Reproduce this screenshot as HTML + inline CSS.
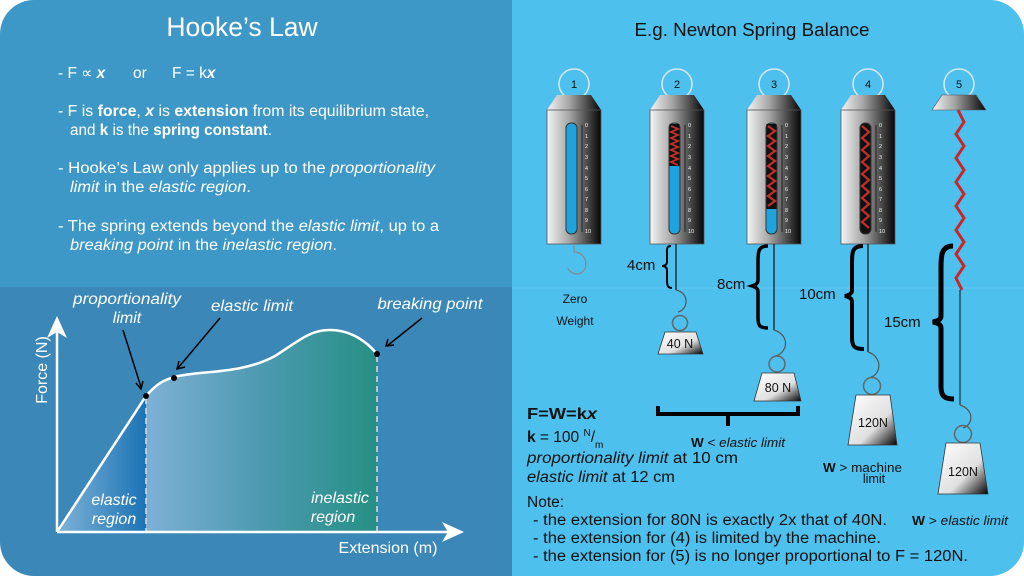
<!DOCTYPE html>
<html><head><meta charset="utf-8"><style>
html,body{margin:0;padding:0;background:#fff;}
svg{display:block;font-family:"Liberation Sans",sans-serif;}
</style></head><body>
<svg width="1024" height="576" viewBox="0 0 1024 576" xmlns="http://www.w3.org/2000/svg">
<defs>
<linearGradient id="metal" x1="0" x2="1" y1="0" y2="0"><stop offset="0" stop-color="#f4f4f4"/><stop offset="0.4" stop-color="#a8a8a8"/><stop offset="1" stop-color="#050505"/></linearGradient>
<linearGradient id="wgt" x1="0" x2="1" y1="0" y2="1"><stop offset="0" stop-color="#fff"/><stop offset="0.6" stop-color="#e0e0e0"/><stop offset="1" stop-color="#000"/></linearGradient>
<linearGradient id="el" x1="0" x2="1"><stop offset="0" stop-color="#7fb3d8"/><stop offset="1" stop-color="#1b73b5"/></linearGradient>
<linearGradient id="inel" x1="0" x2="1"><stop offset="0" stop-color="#7eb1d6"/><stop offset="0.5" stop-color="#4c9ab0"/><stop offset="1" stop-color="#269085"/></linearGradient>
<clipPath id="page"><rect x="0" y="0" width="1024" height="576" rx="34"/></clipPath>
</defs>
<g clip-path="url(#page)">
<rect x="0" y="0" width="512" height="287" fill="#3e98c7"/>
<rect x="0" y="287" width="512" height="289" fill="#3b88b8"/>
<rect x="512" y="0" width="512" height="576" fill="#4dc0ee"/>
<line x1="512" y1="288" x2="1024" y2="288" stroke="#5fc8f0" stroke-width="1"/>
</g>

<!-- Left text -->
<g fill="#fff">
<text x="242" y="36" font-size="26.5" text-anchor="middle">Hooke’s Law</text>
<g font-size="15.5">
<text x="58" y="78">- F ∝ <tspan font-weight="bold" font-style="italic">x</tspan><tspan x="133">or</tspan><tspan x="172">F = k</tspan><tspan font-weight="bold" font-style="italic">x</tspan></text>
<text x="58" y="116" textLength="371" lengthAdjust="spacingAndGlyphs">- F is <tspan font-weight="bold">force</tspan>, <tspan font-weight="bold" font-style="italic">x</tspan> is <tspan font-weight="bold">extension</tspan> from its equilibrium state,</text>
<text x="70" y="135" textLength="202" lengthAdjust="spacingAndGlyphs">and <tspan font-weight="bold">k</tspan> is the <tspan font-weight="bold">spring constant</tspan>.</text>
<text x="58" y="173" textLength="377" lengthAdjust="spacingAndGlyphs">- Hooke’s Law only applies up to the <tspan font-style="italic">proportionality</tspan></text>
<text x="70" y="192" textLength="181" lengthAdjust="spacingAndGlyphs"><tspan font-style="italic">limit</tspan> in the <tspan font-style="italic">elastic region</tspan>.</text>
<text x="58" y="231" textLength="381" lengthAdjust="spacingAndGlyphs">- The spring extends beyond the <tspan font-style="italic">elastic limit</tspan>, up to a</text>
<text x="70" y="250" textLength="267" lengthAdjust="spacingAndGlyphs"><tspan font-style="italic">breaking point</tspan> in the <tspan font-style="italic">inelastic region</tspan>.</text>
</g>
</g>

<!-- Graph -->
<polygon points="57,532 146,396 146,532" fill="url(#el)"/>
<path d="M146,396 C158,382 165,380 174,377 C200,370 240,375 275,356 C300,340 310,330 330,330 C352,330 368,343 377,354 L377,532 L146,532 Z" fill="url(#inel)"/>
<path d="M57,532 L146,396 C158,382 165,380 174,377 C200,370 240,375 275,356 C300,340 310,330 330,330 C352,330 368,343 377,354" fill="none" stroke="#fff" stroke-width="2.5"/>
<line x1="146" y1="398" x2="146" y2="532" stroke="#ddd" stroke-width="1.5" stroke-dasharray="6,4"/>
<line x1="377" y1="356" x2="377" y2="532" stroke="#ddd" stroke-width="1.5" stroke-dasharray="6,4"/>
<line x1="57" y1="532" x2="57" y2="330" stroke="#fff" stroke-width="2.5"/>
<polygon points="57,316 47,338 57,332 67,338" fill="#fff"/>
<line x1="57" y1="532" x2="455" y2="532" stroke="#fff" stroke-width="2.5"/>
<polygon points="464,532 442,522 448,532 442,542" fill="#fff"/>
<circle cx="146" cy="396" r="3" fill="#000"/><circle cx="174" cy="378" r="3" fill="#000"/><circle cx="377" cy="354" r="3" fill="#000"/>
<g stroke="#000" stroke-width="1.5" fill="none">
<line x1="123" y1="330" x2="141" y2="387"/><polyline points="136,383 141,389 143,381"/>
<line x1="220" y1="318" x2="178" y2="368"/><polyline points="179,361 177,369 185,367"/>
<line x1="422" y1="318" x2="387" y2="346"/><polyline points="388,339 386,346 394,345"/>
</g>
<g fill="#fff" font-size="16" font-style="italic">
<text x="127" y="304" text-anchor="middle" textLength="108" lengthAdjust="spacingAndGlyphs">proportionality</text>
<text x="127" y="323" text-anchor="middle">limit</text>
<text x="252" y="311" text-anchor="middle" textLength="82" lengthAdjust="spacingAndGlyphs">elastic limit</text>
<text x="430" y="309" text-anchor="middle" textLength="105" lengthAdjust="spacingAndGlyphs">breaking point</text>
<text x="114" y="505" text-anchor="middle">elastic</text>
<text x="114" y="524" text-anchor="middle">region</text>
<text x="340" y="503" text-anchor="middle">inelastic</text>
<text x="333" y="522" text-anchor="middle">region</text>
</g>
<g fill="#fff" font-size="16">
<text x="388" y="553" text-anchor="middle" textLength="99" lengthAdjust="spacingAndGlyphs">Extension (m)</text>
<text transform="translate(47,370) rotate(-90)" text-anchor="middle">Force (N)</text>
</g>

<!-- Right -->
<text x="752" y="36" font-size="18.5" text-anchor="middle" fill="#111" textLength="235" lengthAdjust="spacingAndGlyphs">E.g. Newton Spring Balance</text>

<g transform="translate(574,0)">
<circle cx="0" cy="84" r="15" fill="none" stroke="#d8e8f0" stroke-width="1.5"/>
<text x="0" y="88" font-size="11" text-anchor="middle" fill="#111">1</text>
<polygon points="-17,95 17,95 27,110 -27,110" fill="url(#metal)"/>
<rect x="-27" y="110" width="54" height="134" fill="url(#metal)" stroke="#555" stroke-width="0.8"/>
<rect x="-8" y="123" width="11" height="111" rx="5" fill="#1fa3df" stroke="#333"/>
<line x1="8" y1="125" x2="8" y2="232" stroke="#222"/>
<g font-size="5.5" fill="#eee"><text x="11" y="127">0</text><text x="11" y="138">1</text><text x="11" y="148">2</text><text x="11" y="159">3</text><text x="11" y="170">4</text><text x="11" y="180">5</text><text x="11" y="191">6</text><text x="11" y="201">7</text><text x="11" y="212">8</text><text x="11" y="222">9</text><text x="11" y="233">10</text></g>
</g>
<path d="M574,244 L574,252 C588,252 590,272 578,274 C572,274 568,270 568,268" fill="none" stroke="#888" stroke-width="1.2"/>
<text x="575" y="303" font-size="12" text-anchor="middle" fill="#111">Zero</text>
<text x="575" y="325" font-size="12" text-anchor="middle" fill="#111">Weight</text>

<g transform="translate(677,0)">
<circle cx="0" cy="84" r="15" fill="none" stroke="#d8e8f0" stroke-width="1.5"/>
<text x="0" y="88" font-size="11" text-anchor="middle" fill="#111">2</text>
<polygon points="-17,95 17,95 27,110 -27,110" fill="url(#metal)"/>
<rect x="-27" y="110" width="54" height="134" fill="url(#metal)" stroke="#555" stroke-width="0.8"/>
<rect x="-8" y="123" width="11" height="111" rx="5" fill="#1fa3df" stroke="#333"/>
<rect x="-7.5" y="124" width="10" height="42" fill="#111"/>
<polyline points="-6,126 1,129 -6,132 1,135 -6,138 1,141 -6,144 1,147 -6,150 1,153 -6,156 1,159 -6,162 1,165" fill="none" stroke="#c0302a" stroke-width="1.8"/>
<line x1="8" y1="125" x2="8" y2="232" stroke="#222"/>
<g font-size="5.5" fill="#eee"><text x="11" y="127">0</text><text x="11" y="138">1</text><text x="11" y="148">2</text><text x="11" y="159">3</text><text x="11" y="170">4</text><text x="11" y="180">5</text><text x="11" y="191">6</text><text x="11" y="201">7</text><text x="11" y="212">8</text><text x="11" y="222">9</text><text x="11" y="233">10</text></g>
</g>

<g transform="translate(774,0)">
<circle cx="0" cy="84" r="15" fill="none" stroke="#d8e8f0" stroke-width="1.5"/>
<text x="0" y="88" font-size="11" text-anchor="middle" fill="#111">3</text>
<polygon points="-17,95 17,95 27,110 -27,110" fill="url(#metal)"/>
<rect x="-27" y="110" width="54" height="134" fill="url(#metal)" stroke="#555" stroke-width="0.8"/>
<rect x="-8" y="123" width="11" height="111" rx="5" fill="#1fa3df" stroke="#333"/>
<rect x="-7.5" y="124" width="10" height="85" fill="#111"/>
<polyline points="-6,126 1,131 -6,136 1,141 -6,146 1,151 -6,156 1,161 -6,166 1,171 -6,176 1,181 -6,186 1,191 -6,196 1,201 -6,206" fill="none" stroke="#c0302a" stroke-width="2.2"/>
<line x1="8" y1="125" x2="8" y2="232" stroke="#222"/>
<g font-size="5.5" fill="#eee"><text x="11" y="127">0</text><text x="11" y="138">1</text><text x="11" y="148">2</text><text x="11" y="159">3</text><text x="11" y="170">4</text><text x="11" y="180">5</text><text x="11" y="191">6</text><text x="11" y="201">7</text><text x="11" y="212">8</text><text x="11" y="222">9</text><text x="11" y="233">10</text></g>
</g>

<g transform="translate(868,0)">
<circle cx="0" cy="84" r="15" fill="none" stroke="#d8e8f0" stroke-width="1.5"/>
<text x="0" y="88" font-size="11" text-anchor="middle" fill="#111">4</text>
<polygon points="-17,95 17,95 27,110 -27,110" fill="url(#metal)"/>
<rect x="-27" y="110" width="54" height="134" fill="url(#metal)" stroke="#555" stroke-width="0.8"/>
<rect x="-8" y="123" width="11" height="111" rx="5" fill="#111" stroke="#333"/>
<polyline points="-6,126 1,132 -6,138 1,144 -6,150 1,156 -6,162 1,168 -6,174 1,180 -6,186 1,192 -6,198 1,204 -6,210 1,216 -6,222 1,228" fill="none" stroke="#c0302a" stroke-width="2.2"/>
<line x1="8" y1="125" x2="8" y2="232" stroke="#222"/>
<g font-size="5.5" fill="#eee"><text x="11" y="127">0</text><text x="11" y="138">1</text><text x="11" y="148">2</text><text x="11" y="159">3</text><text x="11" y="170">4</text><text x="11" y="180">5</text><text x="11" y="191">6</text><text x="11" y="201">7</text><text x="11" y="212">8</text><text x="11" y="222">9</text><text x="11" y="233">10</text></g>
</g>

<circle cx="959" cy="84" r="15" fill="none" stroke="#d8e8f0" stroke-width="1.5"/>
<text x="959" y="88" font-size="11" text-anchor="middle" fill="#111">5</text>
<polygon points="942,95 976,95 986,110 932,110" fill="url(#metal)" stroke="#555" stroke-width="0.6"/>
<polyline points="958,110 964,122 956,134 964,146 956,158 964,170 956,182 964,194 956,206 964,218 956,230 964,242 956,254 964,266 956,278 962,290" fill="none" stroke="#c8282a" stroke-width="3"/>
<line x1="960" y1="290" x2="960" y2="405" stroke="#111"/>

<g stroke="#111" stroke-width="1.2" fill="none">
<line x1="676" y1="244" x2="676" y2="290"/>
<line x1="774" y1="244" x2="774" y2="330"/>
<line x1="868" y1="244" x2="868" y2="352"/>
</g>
<g stroke="#555" stroke-width="1.2" fill="none">
<path d="M676,290 C690,293 688,310 678,312"/>
<path d="M774,330 C790,335 788,352 776,356"/>
<path d="M868,352 C883,357 881,374 871,377"/>
<path d="M960,405 C975,410 973,425 963,428"/>
</g>
<g stroke="#666" stroke-width="1.5" fill="none">
<circle cx="680" cy="323" r="7.5"/><circle cx="777" cy="364" r="8"/><circle cx="872" cy="386" r="8.5"/><circle cx="963" cy="434" r="8.5"/>
</g>
<polygon points="665,332 696,332 703,354 658,354" fill="url(#wgt)" stroke="#333" stroke-width="0.8"/>
<polygon points="762,373 794,373 801,401 754,401" fill="url(#wgt)" stroke="#333" stroke-width="0.8"/>
<polygon points="856,395 890,395 897,445 848,445" fill="url(#wgt)" stroke="#333" stroke-width="0.8"/>
<polygon points="946,443 980,443 988,494 938,494" fill="url(#wgt)" stroke="#333" stroke-width="0.8"/>
<g font-size="12.5" fill="#111" text-anchor="middle">
<text x="680" y="348">40 N</text><text x="778" y="392">80 N</text><text x="873" y="427">120N</text><text x="963" y="476">120N</text>
</g>

<g fill="none" stroke="#000">
<path d="M671,246 C666,246 667,250 667,256 L667,262 C667,265 664,266 662,266 C664,266 667,267 667,270 L667,280 C667,286 668,288 672,288" stroke-width="2"/>
<path d="M768,246 C758,246 758,252 758,262 L758,280 C758,284 755,285 752,286 C755,287 758,288 758,292 L758,318 C758,326 760,328 768,328" stroke-width="3.5"/>
<path d="M863,246 C852,246 852,252 852,264 L852,290 C852,294 849,295 845,296 C849,297 852,298 852,302 L852,338 C852,347 855,349 864,349" stroke-width="4"/>
<path d="M953,246 C941,246 941,256 941,268 L941,316 C941,320 937,321 933,322 C937,323 941,324 941,328 L941,386 C941,396 944,399 954,399" stroke-width="5"/>
<path d="M658,406 L658,414 L798,414 L798,406 M728,414 L728,426" stroke-width="4"/>
</g>
<g font-size="15" fill="#111">
<text x="627" y="270">4cm</text><text x="717" y="289">8cm</text><text x="799" y="299">10cm</text><text x="884" y="327">15cm</text>
</g>

<g fill="#111">
<text x="691" y="447" font-size="12.5" textLength="94" lengthAdjust="spacingAndGlyphs"><tspan font-weight="bold">W</tspan> &lt; <tspan font-style="italic">elastic limit</tspan></text>
<text x="823" y="472" font-size="12.5" textLength="79" lengthAdjust="spacingAndGlyphs"><tspan font-weight="bold">W</tspan> &gt; machine</text>
<text x="874" y="483" font-size="12.5" text-anchor="middle">limit</text>
<text x="912" y="525" font-size="12.5" textLength="96" lengthAdjust="spacingAndGlyphs"><tspan font-weight="bold">W</tspan> &gt; <tspan font-style="italic">elastic limit</tspan></text>
<g font-size="15.5">
<text x="527" y="419" font-weight="bold" textLength="70" lengthAdjust="spacingAndGlyphs">F=W=k<tspan font-style="italic">x</tspan></text>
<text x="527" y="442"><tspan font-weight="bold">k</tspan> = 100 <tspan font-size="10" dy="-6">N</tspan><tspan dy="6">/</tspan><tspan font-size="10" dy="6">m</tspan></text>
<text x="527" y="463" textLength="211" lengthAdjust="spacingAndGlyphs"><tspan font-style="italic">proportionality limit</tspan> at 10 cm</text>
<text x="527" y="482" textLength="148" lengthAdjust="spacingAndGlyphs"><tspan font-style="italic">elastic limit</tspan> at 12 cm</text>
<text x="527" y="507">Note:</text>
<text x="533" y="525" textLength="354" lengthAdjust="spacingAndGlyphs">- the extension for 80N is exactly 2x that of 40N.</text>
<text x="533" y="543" textLength="348" lengthAdjust="spacingAndGlyphs">- the extension for (4) is limited by the machine.</text>
<text x="533" y="561" textLength="435" lengthAdjust="spacingAndGlyphs">- the extension for (5) is no longer proportional to F = 120N.</text>
</g>
</g>
</svg>
</body></html>
